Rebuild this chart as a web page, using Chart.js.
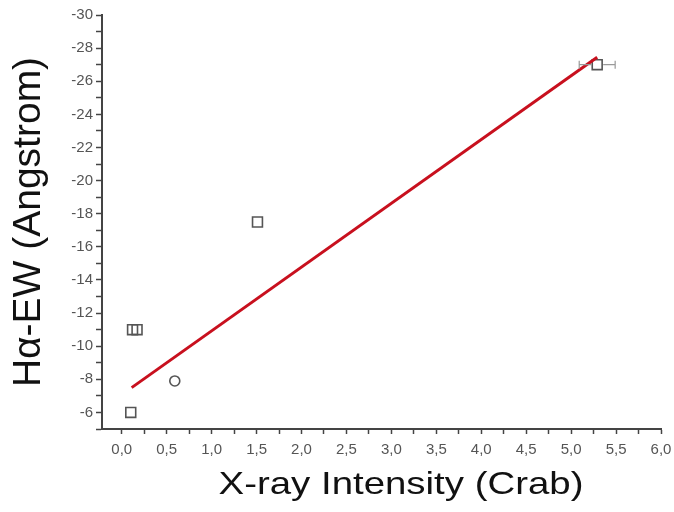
<!DOCTYPE html>
<html>
<head>
<meta charset="utf-8">
<title>H-alpha EW vs X-ray intensity</title>
<script src="https://cdn.jsdelivr.net/npm/chart.js@4.4.1/dist/chart.umd.min.js"></script>
<style>
  html, body { margin: 0; padding: 0; background: #fff; }
  #wrap { width: 674px; height: 512px; }
</style>
</head>
<body>
<div id="wrap"><canvas id="chart" width="674" height="512"></canvas></div>
<script>
// Data
const squareX = [0.10, 0.12, 0.17, 1.51, 5.29];
const squareY = [-6, -11, -11, -17.5, -27];
const squareXErr = [0, 0, 0, 0, 0.2];
const circleX = [0.59];
const circleY = [-7.9];
const fitX = [0.11, 5.29];
const fitY = [-7.5, -27.45];

const xTitle = 'X-ray Intensity (Crab)';
const yTitle = 'H\u03b1-EW (Angstrom)';

const toPoints = (xs, ys) => xs.map((x, i) => ({ x: x, y: ys[i] }));
const commaLabel = v => v.toFixed(1).replace('.', ',');

// Horizontal error bars drawn through the x scale
const errorBars = {
  id: 'errorBars',
  afterDatasetsDraw(chart) {
    const ctx = chart.ctx;
    const xs = chart.scales.x;
    const ys = chart.scales.y;
    ctx.save();
    ctx.strokeStyle = '#9a9a9a';
    ctx.lineWidth = 1.2;
    squareX.forEach((x, i) => {
      const err = squareXErr[i];
      if (!err) return;
      const y = ys.getPixelForValue(squareY[i]);
      const x1 = xs.getPixelForValue(x - err);
      const x2 = xs.getPixelForValue(x + err);
      const xc = xs.getPixelForValue(x);
      ctx.beginPath();
      ctx.moveTo(xc + 6, y);
      ctx.lineTo(x2, y);
      ctx.moveTo(x1, y);
      ctx.lineTo(xc - 6, y);
      ctx.moveTo(x1, y - 4);
      ctx.lineTo(x1, y + 4);
      ctx.moveTo(x2, y - 4);
      ctx.lineTo(x2, y + 4);
      ctx.stroke();
    });
    ctx.restore();
  }
};

// The x title in the original is a little wide, so draw it stretched
const xTitlePlugin = {
  id: 'xTitle',
  afterDraw(chart) {
    const ctx = chart.ctx;
    ctx.save();
    ctx.font = '32px "Liberation Sans", Arial, sans-serif';
    ctx.fillStyle = '#111';
    ctx.textAlign = 'center';
    ctx.textBaseline = 'alphabetic';
    ctx.translate(401, 494);
    ctx.scale(1.2, 1);
    ctx.fillText(xTitle, 0, 0);
    ctx.restore();
  }
};

const axisColor = '#444';
const tickFont = { family: '"Liberation Sans", Arial, sans-serif', size: 15 };

new Chart(document.getElementById('chart'), {
  type: 'scatter',
  data: {
    datasets: [
      {
        type: 'line',
        data: toPoints(fitX, fitY),
        borderColor: '#c8101e',
        borderWidth: 3,
        pointRadius: 0,
        fill: false,
        order: 0
      },
      {
        data: toPoints(squareX, squareY),
        pointStyle: 'rect',
        pointRadius: 7,
        backgroundColor: 'rgba(255,255,255,0)',
        borderColor: '#555',
        borderWidth: 1.6,
        order: 1
      },
      {
        data: toPoints(circleX, circleY),
        pointStyle: 'circle',
        pointRadius: 5,
        backgroundColor: 'rgba(255,255,255,0)',
        borderColor: '#555',
        borderWidth: 1.6,
        order: 1
      }
    ]
  },
  options: {
    responsive: false,
    animation: false,
    layout: { padding: { top: 15, right: 13, left: 0, bottom: 0 } },
    plugins: {
      legend: { display: false },
      tooltip: { enabled: false }
    },
    scales: {
      x: {
        type: 'linear',
        min: -0.22,
        max: 6,
        afterBuildTicks: scale => {
          scale.ticks = scale.ticks.filter(t => t.value >= 0);
        },
        afterFit: scale => {
          scale.height = 83;
          scale.paddingRight = 0;
          scale.paddingLeft = 0;
        },
        border: { color: axisColor, width: 2 },
        grid: { drawOnChartArea: false, tickLength: 5, color: axisColor, tickWidth: 1.5 },
        ticks: {
          stepSize: 0.25,
          includeBounds: false,
          autoSkip: false,
          maxRotation: 0,
          padding: 7,
          color: '#555',
          font: tickFont,
          callback: v => (Math.abs(v * 2 - Math.round(v * 2)) < 1e-6 ? commaLabel(v) : '')
        }
      },
      y: {
        type: 'linear',
        min: -30,
        max: -5,
        reverse: true,
        afterFit: scale => { scale.width = 102; },
        border: { color: axisColor, width: 2 },
        grid: { drawOnChartArea: false, tickLength: 6, color: axisColor, tickWidth: 1.5 },
        ticks: {
          stepSize: 1,
          autoSkip: false,
          padding: 3,
          color: '#555',
          font: tickFont,
          callback: v => (v % 2 === 0 && v <= -6 ? String(v) : '')
        },
        title: {
          display: true,
          text: yTitle,
          color: '#111',
          font: { family: '"Liberation Sans", Arial, sans-serif', size: 39 },
          padding: { top: 6, bottom: 0 }
        }
      }
    }
  },
  plugins: [errorBars, xTitlePlugin]
});
</script>
</body>
</html>
